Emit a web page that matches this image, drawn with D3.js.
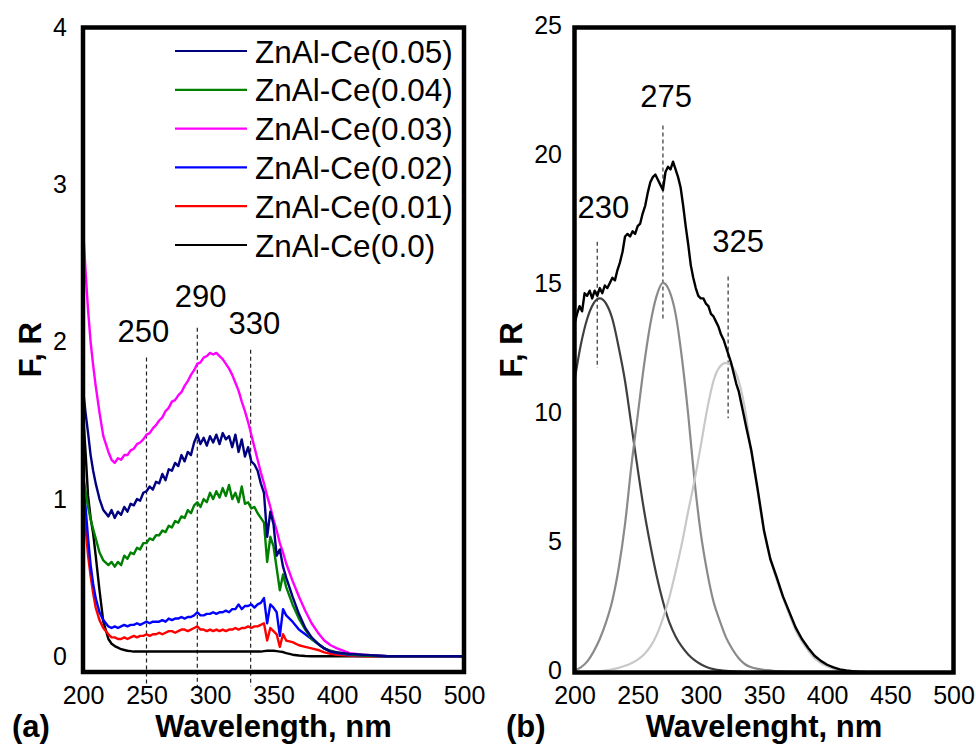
<!DOCTYPE html>
<html><head><meta charset="utf-8">
<script src="https://cdn.jsdelivr.net/npm/d3@7"></script>
<style>
body{margin:0;background:#fff;}
svg{display:block;font-family:"Liberation Sans",Arial,Helvetica,sans-serif;}
</style></head><body>
<svg id="chart" width="976" height="746"></svg>
<script>
// ---------------- Panel (a) data ----------------
const wavelengthA = [200,202,204,206,208,210,213,216,
  220,222.5,225,227.5,230,232.5,235,237.5,240,242.5,245,247.5,250,252.5,255,257.5,260,262.5,265,267.5,270,272.5,275,277.5,280,282.5,285,287.5,290,292.5,295,297.5,300,302.5,305,307.5,310,312.5,315,317.5,320,322.5,325,327.5,330,332.5,335,337.5,340,342.5,345,347.5,350,352.5,355,357.5,360,
  365,370,375,380,385,390,395,400,410,420,440,470,500];
const ce005 = [1.70,1.55,1.42,1.28,1.18,1.10,1.00,0.93,
  0.89,0.93,0.88,0.92,0.90,0.95,0.92,0.97,0.96,1.00,
  0.99,1.04,1.05,1.08,1.06,1.11,1.10,1.16,1.12,1.19,
  1.18,1.23,1.21,1.28,1.24,1.30,1.28,1.36,1.41,1.35,
  1.39,1.34,1.40,1.36,1.41,1.35,1.42,1.38,1.40,1.33,
  1.41,1.30,1.38,1.27,1.33,1.24,1.22,1.18,1.10,1.04,
  0.76,0.92,0.84,0.64,0.68,0.57,0.50,
  0.38,0.27,0.18,0.12,0.08,0.05,0.03,0.025,0.015,0.01,0,0,0];
const ce004 = [1.15,1.05,0.95,0.87,0.81,0.75,0.66,0.61,
  0.58,0.60,0.57,0.60,0.58,0.64,0.62,0.66,0.65,0.69,
  0.68,0.72,0.72,0.75,0.74,0.77,0.77,0.80,0.79,0.83,
  0.82,0.86,0.85,0.89,0.88,0.93,0.91,0.96,0.98,0.95,
  1.00,0.98,1.04,1.00,1.05,1.01,1.07,1.02,1.09,1.00,
  1.04,0.98,1.08,0.97,0.98,0.94,0.95,0.91,0.88,0.85,
  0.60,0.76,0.70,0.56,0.42,0.52,0.44,
  0.33,0.24,0.17,0.11,0.08,0.05,0.035,0.025,0.012,0.005,0,0,0];
const ce003 = [2.73,2.45,2.20,2.00,1.85,1.72,1.55,1.40,
  1.30,1.25,1.23,1.26,1.25,1.28,1.28,1.31,1.32,1.35,
  1.36,1.38,1.41,1.42,1.45,1.47,1.50,1.52,1.56,1.58,
  1.62,1.63,1.66,1.68,1.72,1.75,1.79,1.82,1.86,1.87,
  1.90,1.91,1.93,1.92,1.93,1.91,1.89,1.86,1.83,1.79,
  1.74,1.69,1.62,1.56,1.49,1.41,1.33,1.25,1.17,1.10,
  1.02,0.95,0.87,0.80,0.72,0.66,0.59,
  0.48,0.38,0.29,0.21,0.15,0.10,0.07,0.05,0.02,0.01,0,0,0];
const ce002 = [1.15,0.95,0.75,0.58,0.46,0.37,0.28,0.23,
  0.19,0.18,0.19,0.18,0.19,0.20,0.19,0.20,0.20,0.21,
  0.20,0.21,0.22,0.21,0.22,0.22,0.22,0.23,0.22,0.24,
  0.23,0.24,0.24,0.25,0.24,0.25,0.25,0.26,0.28,0.26,
  0.26,0.27,0.27,0.28,0.27,0.28,0.28,0.29,0.28,0.30,
  0.30,0.33,0.30,0.32,0.32,0.33,0.31,0.33,0.34,0.37,
  0.21,0.33,0.31,0.28,0.13,0.30,0.26,
  0.22,0.17,0.14,0.11,0.08,0.05,0.03,0.02,0.01,0.005,0,0,0];
const ce001 = [1.01,0.82,0.64,0.51,0.40,0.31,0.23,0.18,
  0.14,0.12,0.12,0.11,0.11,0.12,0.11,0.12,0.13,0.12,
  0.13,0.13,0.14,0.13,0.14,0.14,0.15,0.14,0.15,0.16,
  0.16,0.15,0.16,0.17,0.17,0.16,0.17,0.18,0.19,0.17,
  0.17,0.16,0.17,0.16,0.17,0.16,0.17,0.16,0.17,0.17,
  0.18,0.17,0.18,0.18,0.19,0.18,0.19,0.19,0.20,0.21,
  0.10,0.18,0.16,0.14,0.06,0.14,0.10,
  0.09,0.07,0.06,0.05,0.04,0.025,0.015,0.01,0.005,0,0,0,0];
const ce000 = [1.55,1.30,1.02,0.88,0.78,0.64,0.42,0.22,
  0.11,0.08,0.065,0.055,0.045,0.04,0.035,0.033,0.03,0.03,
  0.03,0.03,0.03,0.03,0.03,0.03,0.03,0.03,0.03,0.03,
  0.03,0.03,0.03,0.03,0.03,0.03,0.03,0.03,0.03,0.03,
  0.03,0.03,0.03,0.03,0.03,0.03,0.03,0.03,0.03,0.03,
  0.03,0.03,0.03,0.03,0.03,0.03,0.03,0.03,0.03,0.033,
  0.035,0.035,0.035,0.033,0.03,0.027,0.02,
  0.01,0.005,0.002,0,0,0,0,0,0,0,0,0,0];

const seriesNamesA = ["ZnAl-Ce(0.05)","ZnAl-Ce(0.04)","ZnAl-Ce(0.03)","ZnAl-Ce(0.02)","ZnAl-Ce(0.01)","ZnAl-Ce(0.0)"];
const seriesValuesA = [ce005, ce004, ce003, ce002, ce001, ce000];
const seriesColorsA = ["#000080","#008000","#ff00ff","#0000ff","#ff0000","#000000"];
const drawOrderA = [5,4,3,2,1,0];

const xTicks = [200,250,300,350,400,450,500];
const yTicksA = [0,1,2,3,4];
const peakLinesA = [250,290,332];          // wavelength of the dashed markers
const peakTopsA = [1.90,2.09,1.95];        // upper end of the markers (F,R units)
const peakBottomA = -0.19;
const peakLabelsA = ["250","290","330"];
const peakLabelXA = [247.6,292.7,335];
const peakLabelYA = [2.0,2.22,2.05];

// ---------------- Panel (b) data ----------------
const wavelengthB = [200,205,210,215,220,225,230,235,240,245,250,255,260,265,270,275,280,285,290,295,300,305,310,315,320,325,330,335,340,345,350,355,360,365,370,375,380,385,390,395,400,405,410,415,420,425,430];
const band1 = [11.3,12.7,13.7,14.3,14.5,14.3,13.7,12.6,11.3,9.6,7.9,6.3,4.95,3.75,2.75,1.95,1.4,1.0,0.7,0.48,0.32,0.2,0.13,0.09,0.06,0.04,0.03,0.02,0.015,0.01,0.01,0.005,0,0,0,0,0,0,0,0,0,0,0,0,0,0,0];
const band2 = [0.08,0.2,0.42,0.8,1.3,1.95,2.8,4.05,5.75,8.0,9.95,11.9,13.5,14.6,15.1,14.8,13.9,12.2,10.0,7.44,5.38,3.9,2.75,2.0,1.35,0.9,0.55,0.32,0.2,0.14,0.1,0.08,0.05,0.04,0.03,0.02,0.015,0.01,0.01,0.005,0,0,0,0,0,0,0];
const band3 = [0,0.01,0.02,0.03,0.05,0.08,0.12,0.18,0.26,0.36,0.5,0.7,1.0,1.45,2.1,2.9,3.9,5.0,6.25,7.44,8.8,10.2,11.3,11.85,12.0,11.85,11.3,10.2,8.5,7.0,5.45,4.4,3.6,2.9,2.25,1.65,1.2,0.85,0.55,0.37,0.24,0.15,0.1,0.06,0.03,0.015,0];
const bandColors = ["#3f3f3f","#8a8a8a","#c8c8c8"];

const wavelengthTotal = [200,202,204,206,208,210,212,214,216,218,220,222,224,226,228,230,232,234,236,238,240,242,244,246,248,250,252,254,256,258,260,262,264,266,268,270,272,274,276,278,280,282,284,286,288,290,292,294,296,298,300,302,304,306,308,310,312,314,316,318,320,322,324,326,328,330,333,336,340,345,350,355,360,365,370,375,380,385,390,395,400,405,410,415,420,425,430];
const totalFR = [13.5,13.9,14.2,14.0,14.7,14.6,14.8,14.5,14.8,14.6,14.9,14.7,15.0,14.9,15.1,15.3,15.2,15.6,15.9,16.3,16.9,17.0,16.9,17.1,17.0,17.3,17.4,17.8,18.1,18.6,19.0,19.2,19.3,19.1,18.9,18.7,19.4,19.6,19.5,19.8,19.5,19.2,18.8,18.1,17.3,16.6,15.8,15.3,14.9,14.6,14.5,14.5,14.3,14.2,13.9,13.8,13.6,13.4,13.1,12.9,12.6,12.3,12.0,11.6,11.2,10.9,10.2,9.5,8.6,7.1,5.5,4.4,3.7,2.95,2.35,1.75,1.3,0.95,0.65,0.45,0.3,0.2,0.12,0.08,0.05,0.03,0.02];

const yTicksB = [0,5,10,15,20,25];
const peakLinesB = [218,270,321.6];
const peakTopsB = [16.7,21.2,15.35];
const peakBottomsB = [11.8,13.6,9.85];
const peakLabelsB = ["230","275","325"];
const peakLabelXB = [222.9,272.6,329.5];
const peakLabelYB = [17.6,21.9,16.28];

// ---------------- drawing ----------------
const svg = d3.select("#chart");
const FONT = '"Liberation Sans",Arial,Helvetica,sans-serif';

function zipXY(xs, ys){ return xs.map((x,i)=>[x, ys[i]]).filter(d=>d[1]!==undefined); }

function drawPanel(opt){
  const {x, y, yTicks, tickPadY, labelShift} = opt;
  const g = svg.append("g");
  const gx = g.append("g").attr("transform",`translate(0,${y.range()[0]})`)
    .call(d3.axisBottom(x).tickValues(xTicks).tickSize(0).tickPadding(14).tickFormat(d3.format("d")));
  gx.select(".domain").remove();
  gx.selectAll("text").style("font-family",FONT).style("font-size","25px").attr("fill","#000");
  const gy = g.append("g").attr("transform",`translate(${x.range()[0]},0)`)
    .call(d3.axisLeft(y).tickValues(yTicks).tickSize(0).tickPadding(tickPadY).tickFormat(d3.format("d")));
  gy.select(".domain").remove();
  gy.selectAll("text").style("font-family",FONT).style("font-size","25px").attr("fill","#000")
    .attr("dy", labelShift);
  return g;
}

// Panel (a)
const xA = d3.scaleLinear().domain([200,500]).range([83,464]);
const yA = d3.scaleLinear().domain([-0.1,4]).range([672,27.5]);
const gA = drawPanel({x:xA, y:yA, yTicks:yTicksA, tickPadY:16, labelShift:"0.32em"});

svg.append("defs").append("clipPath").attr("id","clipA").append("rect")
  .attr("x",xA(200)).attr("y",yA(4)).attr("width",xA(500)-xA(200)).attr("height",yA(-0.1)-yA(4));

peakLinesA.forEach((w,i)=>{
  gA.append("line").attr("x1",xA(w)).attr("x2",xA(w)).attr("y1",yA(peakTopsA[i])).attr("y2",yA(peakBottomA))
    .attr("stroke","#222").attr("stroke-width",1.2).attr("stroke-dasharray","4,3");
  gA.append("text").attr("x",xA(peakLabelXA[i])).attr("y",yA(peakLabelYA[i])).attr("text-anchor","middle")
    .style("font-family",FONT).style("font-size","31px").text(peakLabelsA[i]);
});

const lineA = d3.line().x(d=>xA(d[0])).y(d=>yA(d[1]));
const curvesA = gA.append("g").attr("clip-path","url(#clipA)");
drawOrderA.forEach(i=>{
  curvesA.append("path").datum(zipXY(wavelengthA, seriesValuesA[i]))
    .attr("d",lineA).attr("fill","none").attr("stroke",seriesColorsA[i])
    .attr("stroke-width",2.4).attr("stroke-linejoin","round");
});

gA.append("rect").attr("x",xA(200)).attr("y",yA(4)).attr("width",xA(500)-xA(200)).attr("height",yA(-0.1)-yA(4))
  .attr("fill","none").attr("stroke","#000").attr("stroke-width",4.5);

const legend = gA.append("g");
seriesNamesA.forEach((name,i)=>{
  const cy = 51 + i*38.8;
  legend.append("line").attr("x1",175).attr("x2",247).attr("y1",cy).attr("y2",cy)
    .attr("stroke",seriesColorsA[i]).attr("stroke-width",2.2);
  legend.append("text").attr("x",255).attr("y",cy+11.5).style("font-family",FONT).style("font-size","31.5px").text(name);
});

svg.append("text").attr("x",(xA(200)+xA(500))/2).attr("y",737).attr("text-anchor","middle")
  .style("font-family",FONT).style("font-size","31px").style("font-weight","bold").text("Wavelength, nm");
svg.append("text").attr("x",12).attr("y",737)
  .style("font-family",FONT).style("font-size","31px").style("font-weight","bold").text("(a)");
svg.append("text").attr("transform",`translate(41,${(yA(4)+yA(-0.1))/2}) rotate(-90)`).attr("text-anchor","middle")
  .style("font-family",FONT).style("font-size","31px").style("font-weight","bold").text("F, R");

// Panel (b)
const xB = d3.scaleLinear().domain([200,500]).range([574.5,953.5]);
const yB = d3.scaleLinear().domain([0,25]).range([672.5,27.5]);
const gB = drawPanel({x:xB, y:yB, yTicks:yTicksB, tickPadY:12.5, labelShift:"0.22em"});

peakLinesB.forEach((w,i)=>{
  gB.append("line").attr("x1",xB(w)).attr("x2",xB(w)).attr("y1",yB(peakTopsB[i])).attr("y2",yB(peakBottomsB[i]))
    .attr("stroke","#333").attr("stroke-width",1.2).attr("stroke-dasharray","4,3");
  gB.append("text").attr("x",xB(peakLabelXB[i])).attr("y",yB(peakLabelYB[i])).attr("text-anchor","middle")
    .style("font-family",FONT).style("font-size","31px").text(peakLabelsB[i]);
});

const smoothB = d3.line().x(d=>xB(d[0])).y(d=>yB(d[1])).curve(d3.curveMonotoneX);
[band1, band2, band3].forEach((b,i)=>{
  gB.append("path").datum(zipXY(wavelengthB, b)).attr("d",smoothB)
    .attr("fill","none").attr("stroke",bandColors[i]).attr("stroke-width",2.2);
});
const lineB = d3.line().x(d=>xB(d[0])).y(d=>yB(d[1]));
gB.append("path").datum(zipXY(wavelengthTotal, totalFR)).attr("d",lineB)
  .attr("fill","none").attr("stroke","#000").attr("stroke-width",2.4).attr("stroke-linejoin","round");

gB.append("rect").attr("x",xB(200)).attr("y",yB(25)).attr("width",xB(500)-xB(200)).attr("height",yB(0)-yB(25))
  .attr("fill","none").attr("stroke","#000").attr("stroke-width",4.5);

svg.append("text").attr("x",(xB(200)+xB(500))/2).attr("y",737).attr("text-anchor","middle")
  .style("font-family",FONT).style("font-size","31px").style("font-weight","bold").text("Wavelenght, nm");
svg.append("text").attr("x",506).attr("y",737)
  .style("font-family",FONT).style("font-size","31px").style("font-weight","bold").text("(b)");
svg.append("text").attr("transform",`translate(522,${(yB(25)+yB(0))/2}) rotate(-90)`).attr("text-anchor","middle")
  .style("font-family",FONT).style("font-size","31px").style("font-weight","bold").text("F, R");
</script></body></html>
